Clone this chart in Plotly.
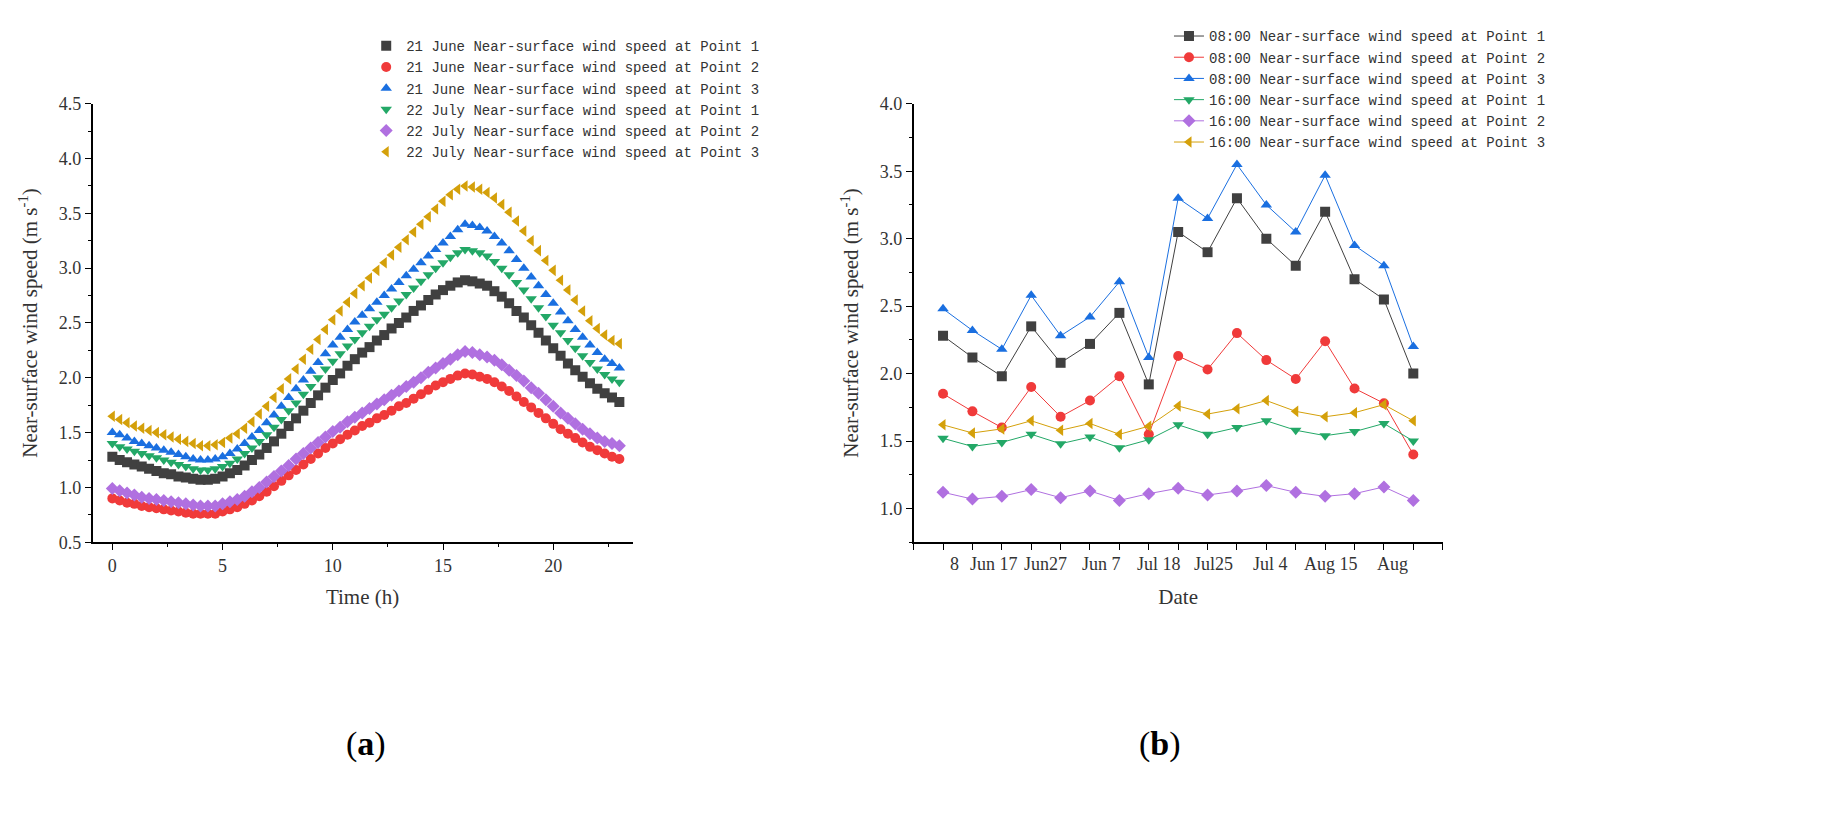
import plotly.graph_objects as go

hours = [h + k / 3 for h in range(23) for k in range(3)] + [23]

june_p1 = [1.28,1.25,1.23, 1.21,1.19,1.17, 1.15,1.13,1.12, 1.10,1.09,1.08, 1.07,1.07,1.08, 1.10,1.13,1.16,
           1.20,1.25,1.30, 1.36,1.42,1.49, 1.56,1.63,1.70, 1.77,1.84,1.91, 1.98,2.04,2.11, 2.17,2.23,2.28,
           2.34,2.39,2.45, 2.50,2.55,2.61, 2.66,2.71,2.76, 2.80,2.84,2.87, 2.89,2.88,2.86, 2.84,2.79,2.74,
           2.68,2.61,2.55, 2.48,2.41,2.34, 2.27,2.20,2.13, 2.07,2.01,1.95, 1.90,1.86,1.82, 1.78]
june_p2 = [0.90,0.88,0.86, 0.85,0.83,0.82, 0.81,0.80,0.79, 0.78,0.77,0.76, 0.76,0.76,0.76, 0.78,0.80,0.82,
           0.85,0.88,0.92, 0.96,1.01,1.06, 1.11,1.16,1.21, 1.26,1.31,1.36, 1.40,1.44,1.48, 1.52,1.56,1.59,
           1.63,1.66,1.70, 1.74,1.77,1.81, 1.85,1.89,1.93, 1.96,1.99,2.02, 2.04,2.03,2.01, 1.99,1.96,1.92,
           1.88,1.83,1.78, 1.73,1.68,1.63, 1.58,1.53,1.49, 1.45,1.41,1.37, 1.34,1.31,1.28, 1.26]
june_p3 = [1.50,1.48,1.45, 1.42,1.40,1.38, 1.36,1.34,1.32, 1.30,1.28,1.26, 1.25,1.25,1.26, 1.28,1.31,1.35,
           1.40,1.46,1.52, 1.59,1.66,1.74, 1.82,1.90,1.98, 2.06,2.14,2.22, 2.30,2.37,2.44, 2.51,2.57,2.63,
           2.69,2.75,2.81, 2.87,2.93,2.99, 3.05,3.11,3.17, 3.23,3.29,3.35, 3.40,3.39,3.37, 3.34,3.29,3.23,
           3.16,3.08,3.00, 2.92,2.84,2.76, 2.68,2.60,2.52, 2.44,2.37,2.30, 2.23,2.17,2.13, 2.09]
july_p1 = [1.40,1.37,1.35, 1.33,1.31,1.29, 1.27,1.25,1.23, 1.21,1.19,1.17, 1.16,1.16,1.17, 1.19,1.22,1.26,
           1.31,1.36,1.42, 1.48,1.55,1.62, 1.70,1.77,1.85, 1.92,2.00,2.08, 2.15,2.22,2.29, 2.35,2.41,2.47,
           2.53,2.58,2.64, 2.70,2.76,2.82, 2.88,2.94,3.00, 3.05,3.10,3.14, 3.17,3.16,3.14, 3.11,3.06,3.00,
           2.94,2.87,2.80, 2.72,2.64,2.56, 2.48,2.41,2.34, 2.27,2.20,2.14, 2.08,2.03,1.99, 1.96]
july_p2 = [0.99,0.97,0.95, 0.93,0.91,0.90, 0.89,0.88,0.87, 0.86,0.85,0.84, 0.83,0.83,0.83, 0.85,0.87,0.89,
           0.92,0.96,1.00, 1.05,1.10,1.15, 1.20,1.26,1.31, 1.36,1.41,1.46, 1.51,1.55,1.60, 1.64,1.68,1.72,
           1.76,1.80,1.84, 1.88,1.92,1.96, 2.00,2.05,2.09, 2.13,2.17,2.21, 2.24,2.23,2.21, 2.19,2.16,2.12,
           2.07,2.02,1.97, 1.91,1.86,1.80, 1.74,1.68,1.63, 1.58,1.53,1.49, 1.45,1.42,1.40, 1.38]
july_p3 = [1.65,1.62,1.59, 1.56,1.54,1.52, 1.50,1.48,1.46, 1.44,1.42,1.40, 1.38,1.38,1.39, 1.41,1.45,1.49,
           1.54,1.60,1.67, 1.74,1.82,1.90, 1.99,2.08,2.17, 2.26,2.35,2.44, 2.53,2.61,2.69, 2.77,2.84,2.91,
           2.98,3.05,3.12, 3.19,3.26,3.33, 3.40,3.47,3.54, 3.61,3.67,3.72, 3.75,3.74,3.72, 3.69,3.64,3.58,
           3.51,3.43,3.34, 3.25,3.16,3.07, 2.98,2.89,2.80, 2.71,2.61,2.52, 2.45,2.39,2.34, 2.31]

date_idx = list(range(17))
m08_p1 = [2.28,2.12,1.98,2.35,2.08,2.22,2.45,1.92,3.05,2.90,3.30,3.00,2.80,3.20,2.70,2.55,2.00]
m08_p2 = [1.85,1.72,1.60,1.90,1.68,1.80,1.98,1.55,2.13,2.03,2.30,2.10,1.96,2.24,1.89,1.78,1.40]
m08_p3 = [2.48,2.32,2.18,2.58,2.28,2.42,2.68,2.12,3.30,3.15,3.55,3.25,3.05,3.47,2.95,2.80,2.20]
a16_p1 = [1.52,1.46,1.49,1.55,1.48,1.53,1.45,1.51,1.62,1.55,1.60,1.65,1.58,1.54,1.57,1.63,1.50]
a16_p2 = [1.12,1.07,1.09,1.14,1.08,1.13,1.06,1.11,1.15,1.10,1.13,1.17,1.12,1.09,1.11,1.16,1.06]
a16_p3 = [1.62,1.56,1.59,1.65,1.58,1.63,1.55,1.61,1.76,1.70,1.74,1.80,1.72,1.68,1.71,1.77,1.65]

date_labels = ["8", "Jun 17", "Jun27", "Jun 7", "Jul 18", "Jul25", "Jul 4", "Aug 15", "Aug"]
date_label_pos = [0.4, 1.75, 3.5, 5.4, 7.35, 9.2, 11.15, 13.2, 15.3]

colors = ["#404040", "#f03a3a", "#1a6fe0", "#23a867", "#b070e0", "#d4a00a"]
symbols = ["square", "circle", "triangle-up", "triangle-down", "diamond", "triangle-left"]

fig = go.Figure()
left = [("21 June Near-surface wind speed at Point 1", june_p1), ("21 June Near-surface wind speed at Point 2", june_p2),
        ("21 June Near-surface wind speed at Point 3", june_p3), ("22 July Near-surface wind speed at Point 1", july_p1),
        ("22 July Near-surface wind speed at Point 2", july_p2), ("22 July Near-surface wind speed at Point 3", july_p3)]
for i, (n, v) in enumerate(left):
    fig.add_trace(go.Scatter(x=hours, y=v, name=n, mode="markers", xaxis="x", yaxis="y", legend="legend",
                             marker=dict(symbol=symbols[i], color=colors[i], size=10)))
right = [("08:00 Near-surface wind speed at Point 1", m08_p1), ("08:00 Near-surface wind speed at Point 2", m08_p2),
         ("08:00 Near-surface wind speed at Point 3", m08_p3), ("16:00 Near-surface wind speed at Point 1", a16_p1),
         ("16:00 Near-surface wind speed at Point 2", a16_p2), ("16:00 Near-surface wind speed at Point 3", a16_p3)]
for i, (n, v) in enumerate(right):
    fig.add_trace(go.Scatter(x=date_idx, y=v, name=n, mode="lines+markers", xaxis="x2", yaxis="y2", legend="legend2",
                             line=dict(color=colors[i], width=1),
                             marker=dict(symbol=symbols[i], color=colors[i], size=10)))

ax = dict(showline=True, linecolor="black", linewidth=1.5, ticks="outside", tickcolor="black", ticklen=6,
          showgrid=False, zeroline=False, mirror=False,
          tickfont=dict(family="Liberation Serif", size=18, color="#333"),
          minor=dict(ticks="outside", ticklen=3, tickcolor="black"))
title_font = dict(family="Liberation Serif", size=21, color="#333")
ylab = "Near-surface wind speed (m s<sup>-1</sup>)"
fig.update_layout(
    width=1837, height=829, margin=dict(l=0, r=0, t=0, b=0),
    plot_bgcolor="white", paper_bgcolor="white",
    xaxis=dict(ax, domain=[0.046, 0.340], range=[-0.9, 23.6], tickvals=[0, 5, 10, 15, 20],
               title=dict(text="Time (h)", font=title_font), anchor="y", minor=dict(ax["minor"], dtick=2.5)),
    yaxis=dict(ax, domain=[0.352, 0.894], range=[0.5, 4.5], dtick=0.5, tickformat=".1f",
               title=dict(text=ylab, font=title_font), anchor="x", minor=dict(ax["minor"], dtick=0.25)),
    xaxis2=dict(ax, domain=[0.493, 0.781], range=[-1, 17], tickvals=list(range(-1, 18)), showticklabels=False,
                title=dict(text="Date", font=title_font, standoff=40), anchor="y2", minor=None),
    yaxis2=dict(ax, domain=[0.352, 0.894], range=[0.75, 4.0], dtick=0.5, tick0=1.0, tickformat=".1f",
                title=dict(text=ylab, font=title_font), anchor="x2", minor=dict(ax["minor"], dtick=0.25)),
    legend=dict(x=0.195, y=0.985, xanchor="left", yanchor="top", bgcolor="rgba(0,0,0,0)",
                font=dict(family="Liberation Mono", size=14, color="#333"), tracegroupgap=0),
    legend2=dict(x=0.632, y=0.997, xanchor="left", yanchor="top", bgcolor="rgba(0,0,0,0)",
                 font=dict(family="Liberation Mono", size=14, color="#333"), tracegroupgap=0),
)
for t, p in zip(date_labels, date_label_pos):
    fig.add_annotation(x=p, y=0.340, xref="x2", yref="paper", text=t, showarrow=False,
                       yanchor="top", font=dict(family="Liberation Serif", size=18, color="#333"))
fig.add_annotation(x=0.183, y=0.077, xref="paper", yref="paper", showarrow=False,
                   text="(<b>a</b>)", font=dict(family="Liberation Serif", size=34, color="black"))
fig.add_annotation(x=0.627, y=0.077, xref="paper", yref="paper", showarrow=False,
                   text="(<b>b</b>)", font=dict(family="Liberation Serif", size=34, color="black"))
fig.write_html("out.html")
